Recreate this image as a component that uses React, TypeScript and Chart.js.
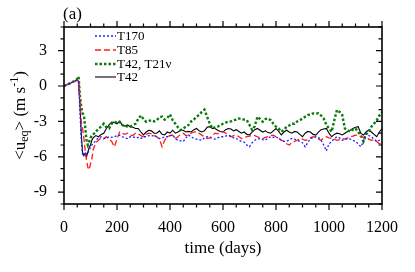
import React, { useEffect, useRef } from "react";
import { Chart, registerables } from "chart.js";

Chart.register(...registerables);

const days = [0, 10, 20, 30, 40, 50, 55, 60, 65, 70, 75, 80, 85, 90, 95, 100, 105, 110,
  120, 130, 140, 150, 160, 170, 180, 190, 200,
  210, 220, 230, 240, 250, 260, 270, 280, 290, 300,
  310, 320, 330, 340, 350, 360, 370, 380, 390, 400,
  410, 420, 430, 440, 450, 460, 470, 480, 490, 500,
  510, 520, 530, 540, 550, 560, 570, 580, 590, 600,
  610, 620, 630, 640, 650, 660, 670, 680, 690, 700,
  710, 720, 730, 740, 750, 760, 770, 780, 790, 800,
  810, 820, 830, 840, 850, 860, 870, 880, 890, 900,
  910, 920, 930, 940, 950, 960, 970, 980, 990, 1000,
  1010, 1020, 1030, 1040, 1050, 1060, 1070, 1080, 1090, 1100,
  1110, 1120, 1130, 1140, 1150, 1160, 1170, 1180, 1190, 1200];

const t170 = [0, 0.1, 0.2, 0.3, 0.4, 0.5, 0.4, -2.0, -4.5, -5.8, -5.9, -5.6, -5.8, -5.7, -5.4, -5.2, -5.0, -4.9,
  -4.6, -4.4, -4.3, -4.4, -4.45, -4.3, -4.35, -4.3, -4.2,
  -4.16, -4.3, -4.4, -4.45, -4.3, -4.3, -4.4, -4.35, -4.45, -4.3,
  -4.3, -4.2, -4.25, -4.16, -4.3, -4.45, -4.4, -4.3, -4.3, -4.2,
  -4.16, -4.45, -4.6, -4.65, -4.7, -4.4, -4.16, -4.3, -4.45, -4.5,
  -4.55, -4.6, -4.4, -4.3, -4.35, -4.45, -4.5, -4.4, -4.3, -4.3,
  -4.25, -4.16, -4.25, -4.4, -4.45, -4.6, -4.7, -4.75, -5.0, -5.15,
  -4.8, -4.6, -4.5, -4.45, -4.55, -4.6, -4.4, -4.3, -4.35, -4.3,
  -4.45, -4.6, -4.7, -4.7, -4.55, -4.45, -4.5, -4.6, -4.7, -4.8,
  -5.15, -4.8, -4.45, -4.4, -4.3, -4.35, -4.6, -5.0, -5.5, -4.9,
  -4.7, -4.45, -4.3, -4.4, -4.6, -4.55, -4.45, -4.5, -4.6, -4.7,
  -4.9, -5.15, -4.7, -4.0, -4.2, -4.3, -4.5, -4.7, -4.6, -4.5];

const t85 = [0, 0.1, 0.2, 0.3, 0.4, 0.5, 0.5, -1.0, -3.0, -3.6, -4.4, -5.5, -6.3, -6.9, -7.1, -6.6, -6.2, -5.4,
  -4.8, -4.6, -4.4, -4.5, -4.3, -4.5, -4.7, -5.15, -4.5,
  -3.9, -4.0, -4.1, -4.0, -4.16, -4.2, -4.0, -4.05, -4.2, -4.3,
  -4.1, -4.0, -4.05, -4.2, -4.3, -4.5, -5.15, -4.6, -4.3, -4.2,
  -4.16, -4.45, -4.3, -4.1, -4.0, -4.2, -4.16, -4.0, -3.9, -3.87,
  -4.0, -4.16, -4.3, -4.45, -4.4, -4.2, -4.0, -4.05, -3.95, -3.87,
  -4.0, -4.2, -4.3, -4.2, -4.16, -4.3, -4.45, -4.4, -4.3, -4.25,
  -4.16, -4.2, -4.3, -4.4, -4.45, -4.35, -4.3, -4.2, -4.16, -4.3,
  -4.4, -4.6, -4.7, -4.9, -5.0, -4.8, -4.7, -4.6, -4.45, -4.5,
  -4.6, -4.55, -4.4, -4.3, -4.35, -4.5, -4.6, -4.4, -4.3, -4.4,
  -4.45, -4.5, -4.6, -4.55, -4.45, -4.5, -4.4, -4.3, -4.25, -4.16,
  -4.2, -4.3, -4.35, -4.3, -4.5, -4.6, -4.55, -4.7, -4.9, -4.85];

const t42t21 = [0, 0.1, 0.2, 0.3, 0.45, 0.6, 0.8, -0.8, -1.8, -2.3, -2.5, -3.5, -4.6, -5.0, -4.7, -4.4, -4.2, -4.1,
  -3.9, -3.6, -3.45, -3.2, -3.5, -3.6, -3.2, -3.03, -3.1,
  -3.03, -3.3, -3.45, -3.4, -3.45, -3.3, -3.2, -2.8, -2.5, -2.8,
  -3.03, -2.95, -2.9, -3.0, -2.9, -2.65, -2.6, -2.85, -2.7, -2.4,
  -2.9, -3.2, -3.5, -3.73, -3.6, -3.45, -3.3, -3.0, -2.85, -2.6,
  -2.45, -2.2, -2.0, -2.6, -3.2, -3.6, -3.5, -3.45, -3.3, -3.2,
  -3.1, -3.03, -3.0, -2.9, -2.85, -2.75, -2.8, -2.85, -2.9, -3.3,
  -3.73, -3.4, -2.6, -2.8, -3.03, -2.8, -2.75, -2.9, -3.2, -3.45,
  -3.6, -3.87, -3.7, -3.45, -3.35, -3.2, -3.2, -3.0, -2.9, -2.75,
  -2.6, -2.46, -2.4, -2.32, -2.35, -2.32, -2.5, -2.75, -3.3, -3.6,
  -3.87, -2.9, -2.03, -2.2, -2.46, -3.6, -3.75, -3.87, -3.7, -3.6,
  -3.9, -4.16, -4.7, -4.1, -3.87, -3.45, -3.2, -2.9, -2.5, -2.2];

const t42 = [0, 0.1, 0.2, 0.3, 0.4, 0.5, 0.4, -1.5, -4.0, -5.6, -5.9, -5.7, -6.0, -5.6, -5.2, -5.0, -4.6, -4.4,
  -4.2, -4.3, -4.1, -4.0, -3.6, -3.3, -3.05, -3.1, -3.2,
  -3.0, -3.3, -3.4, -3.3, -3.45, -3.5, -3.6, -3.6, -3.9, -4.15,
  -3.9, -3.75, -3.8, -4.0, -4.0, -3.8, -4.1, -4.15, -3.9, -4.0,
  -3.75, -4.0, -3.9, -3.75, -3.75, -3.9, -3.85, -3.9, -3.7, -3.6,
  -3.8, -3.9, -3.8, -3.5, -3.45, -3.6, -3.6, -3.75, -3.85, -3.9,
  -3.7, -3.6, -3.65, -3.8, -3.7, -3.85, -4.0, -3.9, -4.1, -4.15,
  -3.9, -3.7, -3.6, -3.75, -3.9, -3.8, -3.95, -4.0, -3.8, -3.6,
  -3.85, -4.15, -3.9, -3.75, -3.9, -4.0, -3.85, -3.9, -4.1, -4.3,
  -4.0, -3.85, -3.9, -4.1, -4.16, -3.9, -3.7, -3.65, -3.6, -4.0,
  -4.3, -4.1, -4.0, -4.05, -4.15, -4.0, -3.85, -3.75, -3.6, -3.5,
  -3.45, -4.0, -4.16, -3.9, -3.73, -3.9, -4.1, -4.3, -3.9, -3.6];

const xTicks = [0, 200, 400, 600, 800, 1000, 1200];
const yTicks = [-9, -6, -3, 0, 3];
const seriesNames = ["T170", "T85", "T42, T21\u03bd", "T42"];

const FONT = '"Liberation Serif", "Times New Roman", serif';

const colors = ["#2020ff", "#ff1a1a", "#0b7a0b", "#000000"];
const widths = [1.3, 1.3, 2.4, 1.1];
const dashes: number[][] = [[2, 2], [6, 3], [2.5, 2], []];

const decoPlugin = {
  id: "deco",
  beforeDraw(chart: any) {
    const c = chart.ctx;
    c.save();
    c.fillStyle = "#ffffff";
    c.fillRect(0, 0, chart.width, chart.height);
    c.restore();
  },
  afterDraw(chart: any) {
    const c = chart.ctx;
    const a = chart.chartArea;
    const xs = chart.scales.x;
    const ys = chart.scales.y;
    c.save();
    c.strokeStyle = "#000";
    c.lineWidth = 1.6;
    c.setLineDash([]);
    c.strokeRect(a.left, a.top, a.right - a.left, a.bottom - a.top);
    c.lineWidth = 1.2;
    for (let v = 0; v <= 1200; v += 50) {
      const px = xs.getPixelForValue(v);
      const len = v % 200 === 0 ? 6 : 3.5;
      c.beginPath();
      c.moveTo(px, a.bottom);
      c.lineTo(px, a.bottom + len);
      c.moveTo(px, a.top);
      c.lineTo(px, a.top - len);
      c.stroke();
    }
    for (let v = -10; v <= 5; v += 1) {
      const py = ys.getPixelForValue(v);
      const len = v % 3 === 0 ? 6 : 3.5;
      c.beginPath();
      c.moveTo(a.left, py);
      c.lineTo(a.left - len, py);
      c.moveTo(a.right, py);
      c.lineTo(a.right - len, py);
      c.stroke();
    }
    c.fillStyle = "#000";
    c.font = `17px ${FONT}`;
    c.textBaseline = "middle";
    c.textAlign = "left";
    c.fillText("(a)", 63, 15);
    c.textAlign = "center";
    c.fillText("time (days)", (a.left + a.right) / 2, 249);
    const parts: [string, number, number][] = [
      ["<u", 17, 0],
      ["eq", 12, 4],
      ["> (m s", 17, 0],
      ["-1", 12, -6],
      [")", 17, 0],
    ];
    let total = 0;
    for (const [t, s] of parts) {
      c.font = `${s}px ${FONT}`;
      total += c.measureText(t).width;
    }
    c.translate(21, (a.top + a.bottom) / 2);
    c.rotate(-Math.PI / 2);
    c.textAlign = "left";
    let x0 = -total / 2;
    for (const [t, s, off] of parts) {
      c.font = `${s}px ${FONT}`;
      c.fillText(t, x0, off);
      x0 += c.measureText(t).width;
    }
    c.restore();
    c.save();
    const rows = [36, 50, 64, 77];
    for (let i = 0; i < 4; i++) {
      c.strokeStyle = colors[i];
      c.lineWidth = widths[i];
      c.setLineDash(dashes[i]);
      c.beginPath();
      c.moveTo(95, rows[i]);
      c.lineTo(116, rows[i]);
      c.stroke();
      c.setLineDash([]);
      c.fillStyle = "#000";
      c.font = `13px ${FONT}`;
      c.textBaseline = "middle";
      c.textAlign = "left";
      c.fillText(seriesNames[i], 117, rows[i] + 0.5);
    }
    c.restore();
  },
};

export default function App() {
  const ref = useRef<HTMLCanvasElement | null>(null);
  useEffect(() => {
    if (!ref.current) return;
    const series = [t170, t85, t42t21, t42];
    const chart = new Chart(ref.current, {
      type: "line",
      data: {
        datasets: series.map((vals, i) => ({
          label: seriesNames[i],
          data: days.map((d, j) => ({ x: d, y: vals[j] })),
          borderColor: colors[i],
          borderWidth: widths[i],
          borderDash: dashes[i],
          pointRadius: 0,
          fill: false,
          tension: 0,
        })),
      },
      options: {
        responsive: false,
        animation: false,
        layout: { padding: { left: 0, top: 27, right: 33, bottom: 0 } },
        plugins: { legend: { display: false }, tooltip: { enabled: false }, title: { display: false } },
        scales: {
          x: {
            type: "linear",
            min: 0,
            max: 1200,
            grid: { display: false },
            border: { display: false },
            ticks: {
              color: "#000",
              font: { family: FONT, size: 16 },
              padding: 6,
              maxRotation: 0,
              callback: (v: any) => String(v),
            },
            afterBuildTicks: (s: any) => {
              s.ticks = xTicks.map((v) => ({ value: v }));
            },
            afterFit: (s: any) => {
              s.height = 68;
            },
          },
          y: {
            type: "linear",
            min: -10,
            max: 5,
            grid: { display: false },
            border: { display: false },
            ticks: {
              color: "#000",
              font: { family: FONT, size: 16 },
              padding: 9,
              callback: (v: any) => String(v),
            },
            afterBuildTicks: (s: any) => {
              s.ticks = yTicks.map((v) => ({ value: v }));
            },
            afterFit: (s: any) => {
              s.width = 64;
            },
          },
        },
      },
      plugins: [decoPlugin],
    });
    return () => chart.destroy();
  }, []);
  return (
    <div style={{ position: "fixed", left: 0, top: 0, width: 415, height: 272, background: "#fff" }}>
      <canvas ref={ref} width={415} height={272} style={{ display: "block" }} />
    </div>
  );
}
